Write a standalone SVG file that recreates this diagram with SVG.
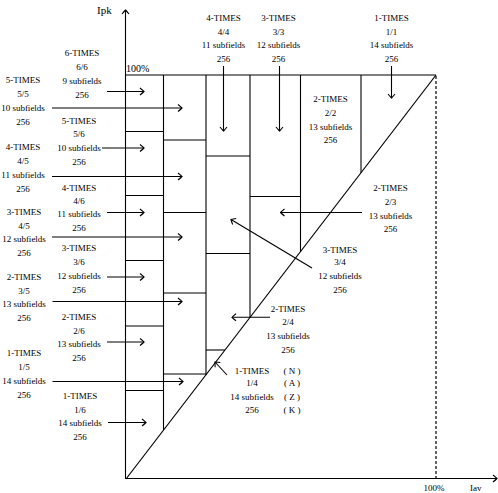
<svg xmlns="http://www.w3.org/2000/svg" width="498" height="493" viewBox="0 0 498 493">
<style>
text{font-family:"Liberation Serif","Times New Roman",serif;font-size:9px;fill:#000;text-anchor:middle}
.ax{font-size:10px;text-anchor:start}
.ln{stroke:#000;stroke-width:1.2;fill:none}
.th{stroke:#000;stroke-width:1.1;fill:none}
.ar{stroke:#000;stroke-width:1.1;fill:none;marker-end:url(#ah)}
.dash{stroke:#000;stroke-width:1.2;stroke-dasharray:3 2;fill:none}
</style>
<defs>
<marker id="ah" markerUnits="userSpaceOnUse" markerWidth="7" markerHeight="10" viewBox="-6 -5 7 10" refX="0" refY="0" orient="auto">
<path d="M-4,-3.5 Q-1.5,-1.5 0,0 Q-1.5,1.5 -4,3.5" fill="none" stroke="#000" stroke-width="1.1"/>
</marker>
</defs>
<rect width="498" height="493" fill="#fff"/>
<g id="chart">
<line class="ar" x1="125.5" y1="479" x2="125.5" y2="10"/>
<line class="ar" x1="125" y1="478.5" x2="497" y2="478.5"/>
<line class="ln" x1="125.5" y1="75" x2="436" y2="75"/>
<line class="ln" x1="126" y1="479" x2="436" y2="75"/>
<line class="dash" x1="436" y1="76" x2="436" y2="478"/>
<line class="th" x1="163.5" y1="75" x2="163.5" y2="430"/>
<line class="th" x1="206" y1="75" x2="206" y2="374.7"/>
<line class="th" x1="250" y1="75" x2="250" y2="317.4"/>
<line class="th" x1="300.5" y1="75" x2="300.5" y2="251.6"/>
<line class="th" x1="361" y1="75" x2="361" y2="172.7"/>
<line class="th" x1="125.5" y1="131.5" x2="163.5" y2="131.5"/>
<line class="th" x1="125.5" y1="195.5" x2="163.5" y2="195.5"/>
<line class="th" x1="125.5" y1="260.5" x2="163.5" y2="260.5"/>
<line class="th" x1="125.5" y1="326" x2="163.5" y2="326"/>
<line class="th" x1="125.5" y1="390.5" x2="163.5" y2="390.5"/>
<line class="th" x1="163.5" y1="140" x2="206" y2="140"/>
<line class="th" x1="163.5" y1="212.5" x2="206" y2="212.5"/>
<line class="th" x1="163.5" y1="293" x2="206" y2="293"/>
<line class="th" x1="163.5" y1="374" x2="206.5" y2="374"/>
<line class="th" x1="206" y1="156" x2="250" y2="156"/>
<line class="th" x1="206" y1="253.5" x2="250" y2="253.5"/>
<line class="th" x1="206" y1="350" x2="225" y2="350"/>
<line class="th" x1="250" y1="196.5" x2="300.5" y2="196.5"/>
<text class="ax" x="97" y="14" style="font-size:11px">Ipk</text>
<text class="ax" x="126" y="71.5">100%</text>
<text x="434" y="491">100%</text>
<text class="ax" x="470" y="491" style="font-size:9px">Iav</text>
</g>
<g id="connectors">
<line class="ar" x1="223.5" y1="66" x2="223.5" y2="131"/>
<line class="ar" x1="279.5" y1="66" x2="279.5" y2="131"/>
<line class="ar" x1="391.5" y1="66" x2="391.5" y2="98"/>
<line class="ar" x1="107" y1="91.5" x2="144" y2="91.5"/>
<line class="ar" x1="102" y1="148" x2="144" y2="148"/>
<line class="ar" x1="107" y1="212.5" x2="144" y2="212.5"/>
<line class="ar" x1="107" y1="277" x2="144" y2="277"/>
<line class="ar" x1="107" y1="342" x2="144" y2="342"/>
<line class="ar" x1="108" y1="422.5" x2="146" y2="422.5"/>
<line class="ar" x1="52" y1="108" x2="182" y2="108"/>
<line class="ar" x1="52" y1="176.5" x2="182" y2="176.5"/>
<line class="ar" x1="52" y1="237" x2="182" y2="237"/>
<line class="ar" x1="52.5" y1="301.5" x2="182" y2="301.5"/>
<line class="ar" x1="52.5" y1="381.5" x2="183" y2="381.5"/>
<line class="ar" x1="362" y1="212.5" x2="280.5" y2="212.5"/>
<line class="ar" x1="312" y1="268" x2="231" y2="219.5"/>
<line class="ar" x1="270" y1="317.3" x2="232" y2="317.3"/>
<line class="ar" x1="227" y1="375" x2="215" y2="362"/>
</g>
<g id="n-4-4"><text x="223.5" y="21">4-TIMES</text><text x="223.5" y="34.5">4/4</text><text x="223.5" y="48">11 subfields</text><text x="223.5" y="61.5">256</text></g>
<g id="n-3-3"><text x="278.5" y="21">3-TIMES</text><text x="278.5" y="34.5">3/3</text><text x="278.5" y="48">12 subfields</text><text x="278.5" y="61.5">256</text></g>
<g id="n-1-1"><text x="391.5" y="21">1-TIMES</text><text x="391.5" y="34.5">1/1</text><text x="391.5" y="48">14 subfields</text><text x="391.5" y="61.5">256</text></g>
<g id="n-6-6"><text x="82" y="56">6-TIMES</text><text x="82" y="70">6/6</text><text x="82" y="84">9 subfields</text><text x="82" y="98">256</text></g>
<g id="n-5-6"><text x="79" y="124">5-TIMES</text><text x="79" y="137">5/6</text><text x="79" y="151">10 subfields</text><text x="79" y="165">256</text></g>
<g id="n-4-6"><text x="79" y="191">4-TIMES</text><text x="79" y="204">4/6</text><text x="79" y="216.5">11 subfields</text><text x="79" y="231">256</text></g>
<g id="n-3-6"><text x="79" y="251">3-TIMES</text><text x="79" y="265">3/6</text><text x="79" y="279">12 subfields</text><text x="79" y="293">256</text></g>
<g id="n-2-6"><text x="79" y="320">2-TIMES</text><text x="79" y="334">2/6</text><text x="79" y="347">13 subfields</text><text x="79" y="361">256</text></g>
<g id="n-1-6"><text x="80" y="399">1-TIMES</text><text x="80" y="413">1/6</text><text x="80" y="426">14 subfields</text><text x="80" y="440">256</text></g>
<g id="n-5-5"><text x="23" y="83">5-TIMES</text><text x="23" y="97">5/5</text><text x="23" y="111">10 subfields</text><text x="23" y="125">256</text></g>
<g id="n-4-5"><text x="23" y="150">4-TIMES</text><text x="23" y="163.5">4/5</text><text x="23" y="177.5">11 subfields</text><text x="23" y="192">256</text></g>
<g id="n-3-5"><text x="24" y="215">3-TIMES</text><text x="24" y="229">4/5</text><text x="24" y="242">12 subfields</text><text x="24" y="256">256</text></g>
<g id="n-2-5"><text x="24" y="280">2-TIMES</text><text x="24" y="293.5">3/5</text><text x="24" y="307">13 subfields</text><text x="24" y="321">256</text></g>
<g id="n-1-5"><text x="24" y="356">1-TIMES</text><text x="24" y="370">1/5</text><text x="24" y="384">14 subfields</text><text x="24" y="398">256</text></g>
<g id="n-2-2"><text x="330.5" y="102">2-TIMES</text><text x="330.5" y="116">2/2</text><text x="330.5" y="130">13 subfields</text><text x="330.5" y="143">256</text></g>
<g id="n-2-3"><text x="390.5" y="191">2-TIMES</text><text x="390.5" y="205">2/3</text><text x="390.5" y="218.5">13 subfields</text><text x="390.5" y="232">256</text></g>
<g id="n-3-4"><text x="340" y="252.5">3-TIMES</text><text x="340" y="265">3/4</text><text x="340" y="279">12 subfields</text><text x="340" y="292.5">256</text></g>
<g id="n-2-4"><text x="288" y="312">2-TIMES</text><text x="288" y="325">2/4</text><text x="288" y="339">13 subfields</text><text x="288" y="353">256</text></g>
<g id="n-1-4"><text x="252" y="374">1-TIMES</text><text x="252" y="386">1/4</text><text x="252" y="399.5">14 subfields</text><text x="252" y="413">256</text></g>
<g id="n-nazk"><text x="292" y="374">( N )</text><text x="292" y="386">( A )</text><text x="292" y="399.5">( Z )</text><text x="292" y="413">( K )</text></g>
</svg>
